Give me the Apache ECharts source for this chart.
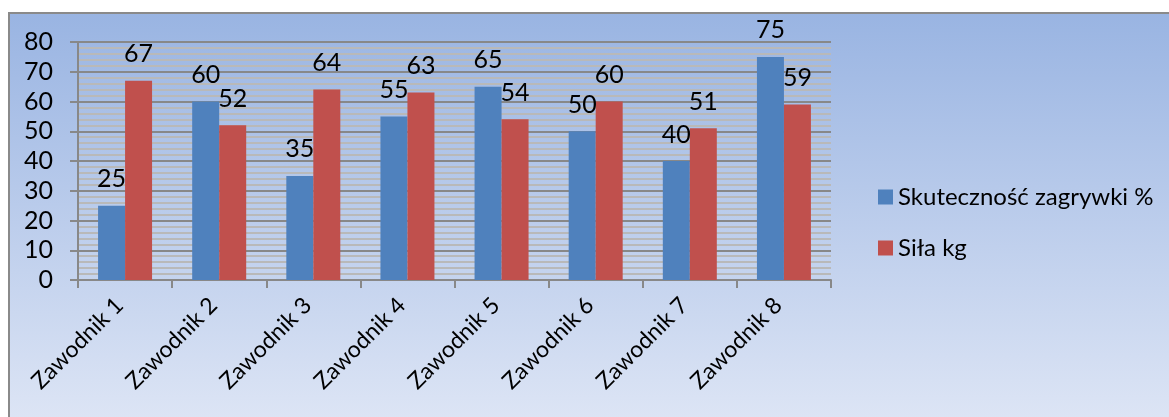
<!DOCTYPE html>
<html>
<head>
<meta charset="utf-8">
<script src="https://cdn.jsdelivr.net/npm/echarts@6/dist/echarts.min.js"></script>
<style>
html,body{margin:0;padding:0;background:#fff;}
#chart{width:1169px;height:417px;}
</style>
</head>
<body>
<div id="chart"></div>
<script>
const categories = ['Zawodnik 1','Zawodnik 2','Zawodnik 3','Zawodnik 4','Zawodnik 5','Zawodnik 6','Zawodnik 7','Zawodnik 8'];
const skutecznosc = [25, 60, 35, 55, 65, 50, 40, 75];
const sila = [67, 52, 64, 63, 54, 60, 51, 59];
const seriesNames = ['Skuteczność zagrywki %', 'Siła kg'];

const FONT = 'Lato, "Open Sans", sans-serif';
const chart = echarts.init(document.getElementById('chart'));
chart.setOption({
  backgroundColor: '#ffffff',
  animation: false,
  textStyle: { fontFamily: FONT },
  graphic: [{
    type: 'rect',
    z: -10,
    silent: true,
    shape: { x: 9, y: 13, width: 1200, height: 450 },
    style: {
      fill: new echarts.graphic.LinearGradient(0, 0, 0, 1, [
        { offset: 0, color: '#99b4e2' },
        { offset: 1, color: '#e4eaf7' }
      ]),
      stroke: '#8a8a8a',
      lineWidth: 2
    }
  }],
  grid: { left: 78, top: 42, right: 338, bottom: 137, containLabel: false },
  legend: {
    orient: 'vertical',
    left: 873,
    top: 180,
    itemWidth: 15,
    itemHeight: 15,
    itemGap: 27,
    icon: 'rect',
    textStyle: { fontSize: 24, color: '#000', fontFamily: FONT },
    data: seriesNames
  },
  xAxis: {
    type: 'category',
    data: categories,
    axisLine: { lineStyle: { color: '#888', width: 2 } },
    axisTick: { show: true, length: 8, lineStyle: { color: '#888', width: 2 } },
    axisLabel: { rotate: 45, fontSize: 23, color: '#000', margin: 16, padding: [0, 8, 0, 0], fontFamily: FONT }
  },
  yAxis: {
    type: 'value',
    min: 0, max: 80, interval: 10,
    axisLine: { show: true, lineStyle: { color: '#888', width: 2 } },
    axisTick: { show: true, length: 8, lineStyle: { color: '#888', width: 2 } },
    axisLabel: { fontSize: 25, color: '#000', margin: 25, fontFamily: FONT },
    splitLine: { show: true, lineStyle: { color: '#888', width: 2 } },
    minorTick: { show: false, splitNumber: 5 },
    minorSplitLine: { show: true, lineStyle: { color: '#b9b9b9', width: 2 } }
  },
  series: [
    {
      name: seriesNames[0], type: 'bar', data: skutecznosc,
      barWidth: 27, barGap: '0%',
      itemStyle: { color: '#4f81bd' },
      label: { show: true, position: 'top', distance: 14, fontSize: 25, color: '#000', fontFamily: FONT }
    },
    {
      name: seriesNames[1], type: 'bar', data: sila,
      barWidth: 27, barGap: '0%',
      itemStyle: { color: '#c0504d' },
      label: { show: true, position: 'top', distance: 14, fontSize: 25, color: '#000', fontFamily: FONT }
    }
  ]
});
</script>
</body>
</html>
